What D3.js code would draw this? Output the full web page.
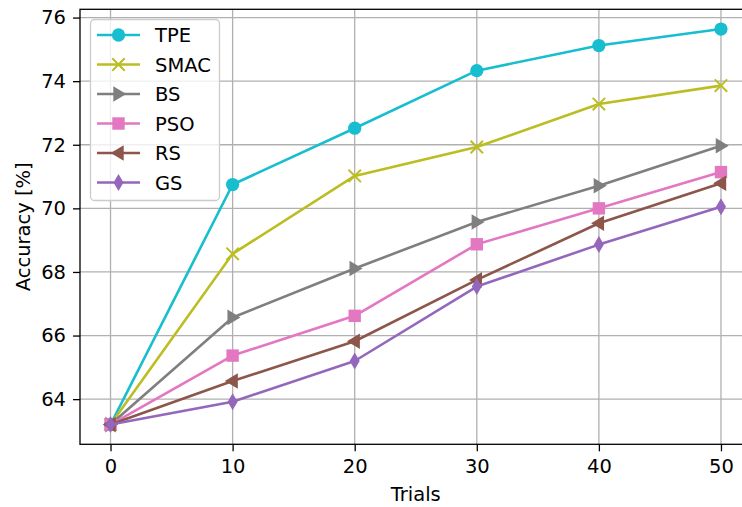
<!DOCTYPE html>
<html>
<head>
<meta charset="utf-8">
<script src="https://cdn.jsdelivr.net/npm/d3@7"></script>
<style>
  body { margin: 0; background: #fff; }
  svg { font-family: "DejaVu Sans", sans-serif; display: block; }
</style>
</head>
<body>
<div id="chart"></div>
<script>
// data
const trials = [0, 10, 20, 30, 40, 50];
const tpe  = [63.2, 70.75, 72.52, 74.33, 75.12, 75.64];
const smac = [63.2, 68.57, 71.02, 71.93, 73.28, 73.86];
const bs   = [63.2, 66.57, 68.11, 69.57, 70.71, 71.97];
const pso  = [63.2, 65.37, 66.62, 68.87, 70.0, 71.14];
const rs   = [63.2, 64.57, 65.82, 67.75, 69.53, 70.79];
const gs   = [63.2, 63.92, 65.2, 67.54, 68.86, 70.05];
const xTicks = [0, 10, 20, 30, 40, 50];
const yTicks = [64, 66, 68, 70, 72, 74, 76];

const series = [
  { name: "TPE", values: tpe, color: "#17becf", marker: "o" },
  { name: "SMAC", values: smac, color: "#bcbd22", marker: "x" },
  { name: "BS", values: bs, color: "#7f7f7f", marker: ">" },
  { name: "PSO", values: pso, color: "#e377c2", marker: "s" },
  { name: "RS", values: rs, color: "#8c564b", marker: "<" },
  { name: "GS", values: gs, color: "#9467bd", marker: "d" },
];

const svgWidth = 742, svgHeight = 507;
const fontSize = "19.5px";
// plot area (right edge runs past the picture, as in the original crop)
const plotLeft = 80, plotRight = 751.5, plotTop = 9.3, plotBottom = 444.3;

const svg = d3.select("#chart").append("svg")
  .attr("width", svgWidth)
  .attr("height", svgHeight);

const xScale = d3.scaleLinear().domain([-2.5, 52.5]).range([plotLeft, plotRight]);
const yScale = d3.scaleLinear().domain([62.58, 76.26]).range([plotBottom, plotTop]);

// grid
const grid = svg.append("g").attr("stroke", "#b0b0b0").attr("stroke-width", 1.3);
grid.selectAll("line.gx").data(xTicks).join("line")
  .attr("class", "gx")
  .attr("x1", d => xScale(d)).attr("x2", d => xScale(d))
  .attr("y1", plotTop).attr("y2", plotBottom);
grid.selectAll("line.gy").data(yTicks).join("line")
  .attr("class", "gy")
  .attr("y1", d => yScale(d)).attr("y2", d => yScale(d))
  .attr("x1", plotLeft).attr("x2", plotRight);

// markers
function markerPath(type) {
  switch (type) {
    case "o": return d3.symbol(d3.symbolCircle, 138)();
    case "s": return "M-6.2,-6.2H6.2V6.2H-6.2Z";
    case ">": return "M7.8,0L-5.2,-7.8L-5.2,7.8Z";
    case "<": return "M-7.8,0L5.2,-7.8L5.2,7.8Z";
    case "d": return "M0,-8.5L5,0L0,8.5L-5,0Z";
    case "x": return "M-6.2,-6.2L6.2,6.2M-6.2,6.2L6.2,-6.2";
  }
}

const line = d3.line().x((d, i) => xScale(trials[i])).y(d => yScale(d));

const plot = svg.append("g");
series.forEach(s => {
  const g = plot.append("g");
  g.append("path")
    .attr("d", line(s.values))
    .attr("fill", "none")
    .attr("stroke", s.color)
    .attr("stroke-width", 2.6)
    .attr("stroke-linejoin", "round");
  g.selectAll("path.m").data(s.values).join("path")
    .attr("class", "m")
    .attr("transform", (d, i) => `translate(${xScale(trials[i])},${yScale(d)})`)
    .attr("d", markerPath(s.marker))
    .attr("fill", s.marker === "x" ? "none" : s.color)
    .attr("stroke", s.color)
    .attr("stroke-width", s.marker === "x" ? 2 : 0);
});

// axes
const xAxis = svg.append("g").attr("transform", `translate(0,${plotBottom})`)
  .call(d3.axisBottom(xScale).tickValues(xTicks).tickSize(7).tickPadding(8).tickFormat(d3.format("d")));
const yAxis = svg.append("g").attr("transform", `translate(${plotLeft},0)`)
  .call(d3.axisLeft(yScale).tickValues(yTicks).tickSize(7).tickPadding(7).tickFormat(d3.format("d")));
[xAxis, yAxis].forEach(a => {
  a.select(".domain").remove();
  a.selectAll(".tick line").attr("stroke", "#000").attr("stroke-width", 1.3);
  a.selectAll(".tick text").attr("fill", "#000").style("font-size", fontSize)
    .style("font-family", "DejaVu Sans, sans-serif");
});

// spines
svg.append("rect")
  .attr("x", plotLeft).attr("y", plotTop)
  .attr("width", plotRight - plotLeft).attr("height", plotBottom - plotTop)
  .attr("fill", "none").attr("stroke", "#000").attr("stroke-width", 1.3);

// axis labels
svg.append("text")
  .attr("x", (plotLeft + plotRight) / 2).attr("y", 501)
  .attr("text-anchor", "middle").style("font-size", fontSize)
  .text("Trials");
svg.append("text")
  .attr("transform", `translate(29.5,${(plotTop + plotBottom) / 2}) rotate(-90)`)
  .attr("text-anchor", "middle").style("font-size", fontSize)
  .text("Accuracy [%]");

// legend
const legend = svg.append("g");
legend.append("rect")
  .attr("x", 90.5).attr("y", 19.5).attr("width", 129).attr("height", 181)
  .attr("rx", 4)
  .attr("fill", "#fff").attr("fill-opacity", 0.8)
  .attr("stroke", "#cccccc").attr("stroke-width", 1.3);
const items = legend.selectAll("g.item").data(series).join("g")
  .attr("class", "item")
  .attr("transform", (d, i) => `translate(0,${35 + i * 29.5})`);
items.append("line")
  .attr("x1", 97).attr("x2", 140)
  .attr("stroke", d => d.color).attr("stroke-width", 2.6);
items.append("path")
  .attr("transform", "translate(118.5,0)")
  .attr("d", d => markerPath(d.marker))
  .attr("fill", d => d.marker === "x" ? "none" : d.color)
  .attr("stroke", d => d.color)
  .attr("stroke-width", d => d.marker === "x" ? 2 : 0);
items.append("text")
  .attr("x", 155).attr("y", 0).attr("dy", "0.36em")
  .style("font-size", fontSize)
  .text(d => d.name);
</script>
</body>
</html>
